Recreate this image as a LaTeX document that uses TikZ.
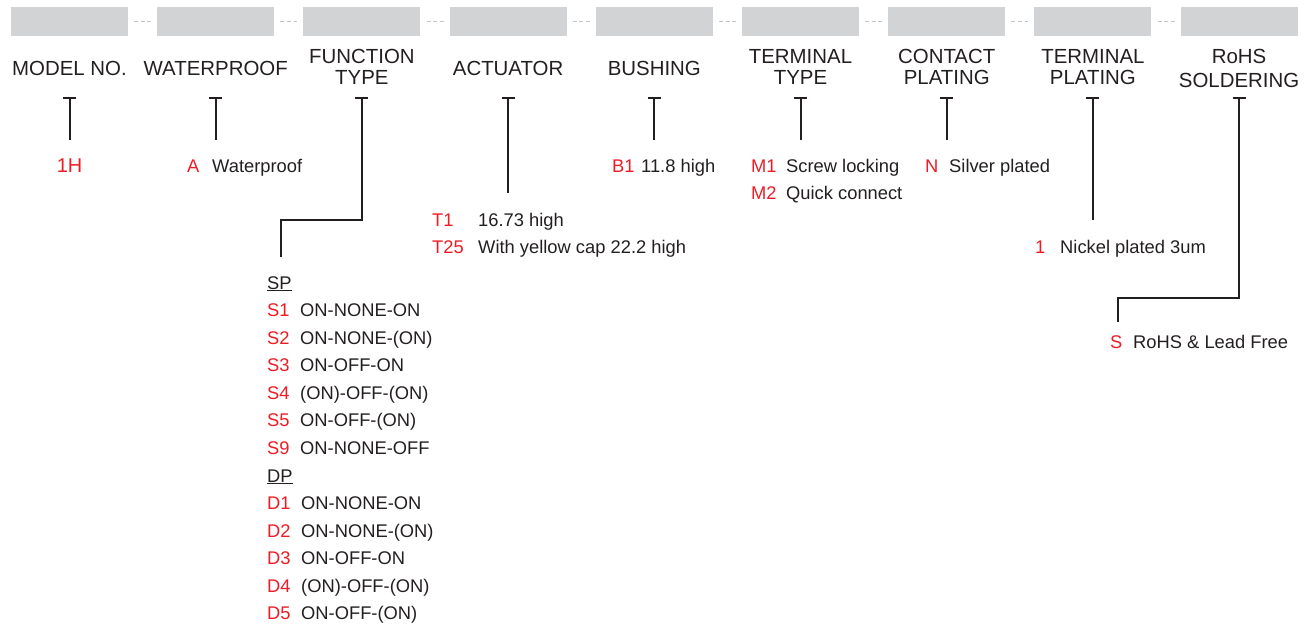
\documentclass[tikz,border=0pt]{standalone}
\usepackage{fontspec}
\setmainfont{Liberation Sans}
\usetikzlibrary{positioning}
\definecolor{codered}{HTML}{ED1C24}
\definecolor{ink}{HTML}{231F20}
\definecolor{slotgray}{HTML}{D1D3D4}
\definecolor{dashgray}{HTML}{C4C5C7}

\begin{document}
\begin{tikzpicture}[x=1bp,y=-1bp,
  slot/.style={fill=slotgray,minimum width=117bp,minimum height=29bp,inner sep=0},
  head/.style={font=\fontsize{20.5}{22}\selectfont,text=ink,align=center,anchor=base,inner sep=0},
  code/.style={font=\fontsize{18.4}{20}\selectfont,text=codered,anchor=base west,inner sep=0},
  desc/.style={font=\fontsize{18.4}{20}\selectfont,text=ink,anchor=base west,inner sep=0},
  stem/.style={draw=ink,line width=2bp}]
  \useasboundingbox (0,0) rectangle (1315,624);

  % code slots
  \foreach \i in {1,...,9}
    \node[slot] (slot\i) at ({69.5+146.2*(\i-1)},21.5) {};
  \foreach \i in {1,...,8}
    \draw[dashgray,line width=1bp,dash pattern=on 4bp off 2.6bp] ([xshift=6bp]slot\i.east) -- ++(17,0);

  % headings (base = last line)
  \node[head] (model) at (69.5,76) {MODEL NO.};
  \node[head] (water) at (215.7,76) {WATERPROOF};
  \node[head] (func) at (361.9,85) {FUNCTION\\TYPE};
  \node[head] (act) at (508.1,76) {ACTUATOR};
  \node[head] (bush) at (654.3,76) {BUSHING};
  \node[head] (termtype) at (800.5,85) {TERMINAL\\TYPE};
  \node[head] (contact) at (946.7,85) {CONTACT\\PLATING};
  \node[head] (termplat) at (1092.9,85) {TERMINAL\\PLATING};
  \node[head] (rohs) at (1239.1,88) {RoHS\\[3bp]SOLDERING};

  % stems
  \foreach \i/\x/\y in {1/69.5/140,2/215.7/140,4/508.1/193,5/654.3/140,6/800.5/140,7/946.7/140,8/1092.9/220}{
    \coordinate (top\i) at (\x,97.7);
    \coordinate (end\i) at (\x,\y);
    \draw[stem] ([xshift=-6.5bp]top\i) -- ([xshift=6.5bp]top\i) (top\i) -- (end\i);
  }
  \coordinate (top3) at (361.9,97.7);
  \coordinate (bend3) at (281,220);
  \coordinate (end3) at (281,257);
  \draw[stem] ([xshift=-6.5bp]top3) -- ([xshift=6.5bp]top3) (top3) |- (bend3) -- (end3);
  \coordinate (top9) at (1239.1,97.7);
  \coordinate (bend9) at (1118,298);
  \coordinate (end9) at (1118,322);
  \draw[stem] ([xshift=-6.5bp]top9) -- ([xshift=6.5bp]top9) (top9) |- (bend9) -- (end9);

  % options
  \node[code,anchor=base,font=\fontsize{20}{22}\selectfont] (1H) at (69.5,173) {1H};
  \node[code] (A) at (187,172.5) {A};
  \node[desc] (Adesc) at (212,172.5) {Waterproof};
  \node[code] (T1) at (432,226) {T1};
  \node[desc] (T1desc) at (478,226) {16.73 high};
  \node[code] (T25) at (432,253) {T25};
  \node[desc] (T25desc) at (478,253) {With yellow cap 22.2 high};
  \node[code] (B1) at (612,172.5) {B1};
  \node[desc] (B1desc) at (641,172.5) {11.8 high};
  \node[code] (M1) at (751,172.5) {M1};
  \node[desc] (M1desc) at (786,172.5) {Screw locking};
  \node[code] (M2) at (751,199.5) {M2};
  \node[desc] (M2desc) at (786,199.5) {Quick connect};
  \node[code] (N) at (925,172.5) {N};
  \node[desc] (Ndesc) at (949,172.5) {Silver plated};
  \node[code] (P1) at (1035,253) {1};
  \node[desc] (P1desc) at (1060,253) {Nickel plated 3um};
  \node[code] (S) at (1110,348) {S};
  \node[desc] (Sdesc) at (1133,348) {RoHS \& Lead Free};

  % function list
  \node[desc] (SP) at (267,289) {\underline{SP}};
  \foreach \c/\t [count=\k] in {S1/ON-NONE-ON,S2/ON-NONE-(ON),S3/ON-OFF-ON,S4/(ON)-OFF-(ON),S5/ON-OFF-(ON),S9/ON-NONE-OFF}{
    \node[code] (\c) at (267,{289+27.58*\k}) {\c};
    \node[desc] (\c desc) at (300,{289+27.58*\k}) {\t};
  }
  \node[desc] (DP) at (267,{289+27.58*7}) {\underline{DP}};
  \foreach \c/\t [count=\k from 8] in {D1/ON-NONE-ON,D2/ON-NONE-(ON),D3/ON-OFF-ON,D4/(ON)-OFF-(ON),D5/ON-OFF-(ON)}{
    \node[code] (\c) at (267,{289+27.58*\k}) {\c};
    \node[desc] (\c desc) at (301,{289+27.58*\k}) {\t};
  }
\end{tikzpicture}
\end{document}
